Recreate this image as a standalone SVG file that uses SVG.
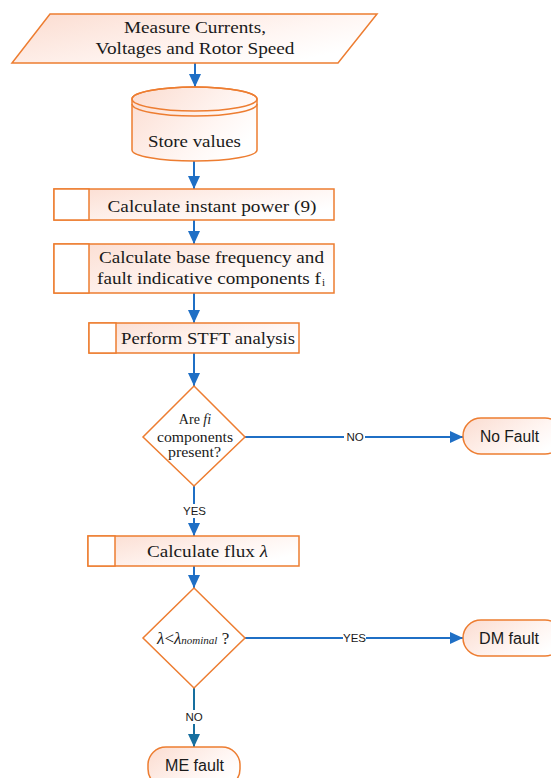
<svg xmlns="http://www.w3.org/2000/svg" width="551" height="778" viewBox="0 0 551 778">
<defs>
<linearGradient id="peach" x1="0" y1="0" x2="1" y2="0.6">
<stop offset="0" stop-color="#fbdcd0"/>
<stop offset="0.7" stop-color="#fff6f3"/>
<stop offset="1" stop-color="#ffffff"/>
</linearGradient>
<marker id="ah" markerUnits="userSpaceOnUse" markerWidth="14" markerHeight="14" viewBox="0 0 14 14" refX="13" refY="7" orient="auto">
<path d="M0,1 L13,7 L0,13 Z" fill="#1f6fc5"/>
</marker>
<marker id="ah2" markerUnits="userSpaceOnUse" markerWidth="14" markerHeight="14" viewBox="0 0 14 14" refX="13" refY="7" orient="auto">
<path d="M0,1 L13,7 L0,13 Z" fill="#176f9f"/>
</marker>
</defs>
<style>
.sh{fill:url(#peach);stroke:#ed7d31;stroke-width:1.5}
.wh{fill:#ffffff;stroke:#ed7d31;stroke-width:1.5}
.ln{fill:none;stroke:#ed7d31;stroke-width:1.5}
.t{font-family:"Liberation Serif","Times New Roman",serif;font-size:17px;fill:#1a1a1a;text-anchor:middle}
.td{font-family:"Liberation Serif","Times New Roman",serif;font-size:14px;fill:#1a1a1a;text-anchor:middle}
.s{font-family:"Liberation Sans",Arial,sans-serif;font-size:16px;fill:#1a1a1a;text-anchor:middle}
.lb{font-family:"Liberation Sans",Arial,sans-serif;font-size:11.5px;fill:#1a1a1a;text-anchor:middle}
.c{fill:none;stroke:#1f6fc5;stroke-width:2}
</style>

<g id="connectors">
<line class="c" x1="195" y1="63" x2="195" y2="87" marker-end="url(#ah)"/>
<line class="c" x1="194" y1="161" x2="194" y2="189" marker-end="url(#ah)"/>
<line class="c" x1="194" y1="220" x2="194" y2="244" marker-end="url(#ah)"/>
<line class="c" x1="194" y1="293" x2="194" y2="323" marker-end="url(#ah)"/>
<line class="c" x1="194" y1="353" x2="194" y2="386" marker-end="url(#ah)"/>
<line class="c" x1="245" y1="437" x2="463" y2="437" marker-end="url(#ah)"/>
<rect x="344" y="430" width="21" height="14" fill="#ffffff"/>
<text class="lb" x="355" y="441">NO</text>
<line class="c" x1="194" y1="486" x2="194" y2="536" marker-end="url(#ah)"/>
<rect x="183" y="504" width="23" height="14" fill="#ffffff"/>
<text class="lb" x="194.5" y="515">YES</text>
<line class="c" x1="194" y1="566" x2="194" y2="588" marker-end="url(#ah)"/>
<line class="c" x1="245" y1="638" x2="463" y2="638" marker-end="url(#ah)"/>
<rect x="343" y="631" width="23" height="14" fill="#ffffff"/>
<text class="lb" x="354.5" y="642">YES</text>
<line x1="194" y1="688" x2="194" y2="747" stroke="#176f9f" stroke-width="2" marker-end="url(#ah2)"/>
<rect x="183" y="710" width="22" height="14" fill="#ffffff"/>
<text class="lb" x="194" y="721">NO</text>
</g>

<g id="measure">
<polygon class="sh" points="50,14 377,14 338,63 12,63"/>
<text class="t" x="195" y="33" textLength="142" lengthAdjust="spacingAndGlyphs">Measure Currents,</text>
<text class="t" x="195" y="54" textLength="199" lengthAdjust="spacingAndGlyphs">Voltages and Rotor Speed</text>
</g>

<g id="store">
<path class="sh" d="M132,99 L132,150 A62.5,11 0 0 0 257,150 L257,99 A62.5,12 0 0 0 132,99 Z"/>
<ellipse class="ln" cx="194.5" cy="99" rx="62.5" ry="12"/>
<path class="ln" d="M132,104 A62.5,12 0 0 0 257,104"/>
<text class="t" x="194.5" y="147" textLength="93" lengthAdjust="spacingAndGlyphs">Store values</text>
</g>

<g id="instant-power">
<rect class="sh" x="54" y="189" width="280" height="31"/>
<rect class="wh" x="54" y="189" width="35" height="31"/>
<text class="t" x="212" y="212" textLength="209" lengthAdjust="spacingAndGlyphs">Calculate instant power (9)</text>
</g>

<g id="base-frequency">
<rect class="sh" x="54" y="244" width="280" height="49"/>
<rect class="wh" x="54" y="244" width="35" height="49"/>
<text class="t" x="211.5" y="263" textLength="225" lengthAdjust="spacingAndGlyphs">Calculate base frequency and</text>
<text class="t" x="97" y="284" style="text-anchor:start" textLength="224" lengthAdjust="spacingAndGlyphs">fault indicative components f</text>
<text x="322" y="286" font-family="Liberation Serif, serif" font-size="11" fill="#1a1a1a">i</text>
</g>

<g id="stft">
<rect class="sh" x="89" y="323" width="210" height="30"/>
<rect class="wh" x="89" y="323" width="27" height="30"/>
<text class="t" x="208" y="344" textLength="174" lengthAdjust="spacingAndGlyphs">Perform STFT analysis</text>
</g>

<g id="decision-fi">
<polygon class="wh" points="194,386 245,437 194,486 143,437"/>
<text class="td" x="195" y="424">Are <tspan font-style="italic">fi</tspan></text>
<text class="td" x="195" y="442" textLength="76" lengthAdjust="spacingAndGlyphs">components</text>
<text class="td" x="194.5" y="457" textLength="53" lengthAdjust="spacingAndGlyphs">present?</text>
</g>

<g id="no-fault">
<rect class="sh" x="463" y="418" width="100" height="36" rx="18" ry="18"/>
<text class="s" x="509.5" y="442" textLength="59" lengthAdjust="spacingAndGlyphs">No Fault</text>
</g>

<g id="flux">
<rect class="sh" x="88" y="536" width="211" height="30"/>
<rect class="wh" x="88" y="536" width="27" height="30"/>
<text class="t" x="207.5" y="557" textLength="121" lengthAdjust="spacingAndGlyphs">Calculate flux <tspan font-style="italic">λ</tspan></text>
</g>

<g id="decision-lambda">
<polygon class="wh" points="194,588 245,638 194,688 143,638"/>
<text x="157" y="644" font-family="Liberation Serif, serif" font-size="17" fill="#1a1a1a"><tspan font-style="italic">λ</tspan>&lt;<tspan font-style="italic">λ</tspan><tspan font-size="11" font-style="italic">nominal</tspan> ?</text>
</g>

<g id="dm-fault">
<rect class="sh" x="463" y="620" width="100" height="36" rx="18" ry="18"/>
<text class="s" x="509" y="644" textLength="60" lengthAdjust="spacingAndGlyphs">DM fault</text>
</g>

<g id="me-fault">
<rect class="sh" x="148" y="747" width="92" height="40" rx="18" ry="18"/>
<text class="s" x="194.5" y="771" textLength="59" lengthAdjust="spacingAndGlyphs">ME fault</text>
</g>
</svg>
